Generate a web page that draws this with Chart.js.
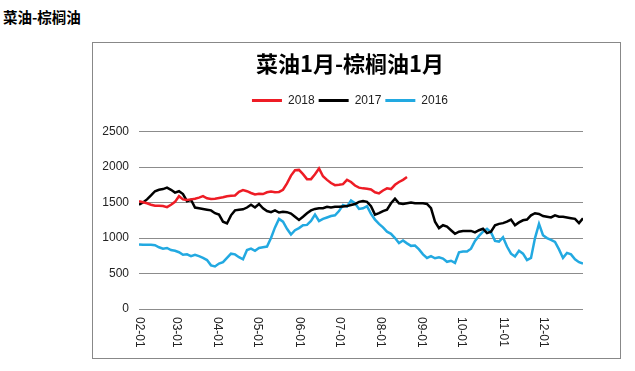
<!DOCTYPE html>
<html>
<head>
<meta charset="utf-8">
<script src="https://cdn.jsdelivr.net/npm/chart.js@4.4.0/dist/chart.umd.min.js"></script>
<style>
  body { margin: 0; background: #fff; }
  #page-title { position: absolute; left: 3px; top: 6px; font: bold 14.5px "Noto Sans CJK SC"; color: #000; }
  #frame { position: absolute; left: 92px; top: 42px; width: 527px; height: 315px; border: 1px solid #888; }
  #wrap { position: absolute; left: 0; top: 0; width: 635px; height: 371px; }
</style>
</head>
<body>
<div id="page-title">菜油-棕榈油</div>
<div id="frame"></div>
<div id="wrap"><canvas id="myChart" width="635" height="371"></canvas></div>
<script>
// sample days, counted from 02-01 (every 3rd day up to 12-31)
const days = Array.from({ length: 112 }, (_, i) => i * 3);

// month ticks on the x axis
const monthStarts = [0, 28, 59, 89, 120, 150, 181, 212, 242, 273, 303];
const monthLabels = ['02-01', '03-01', '04-01', '05-01', '06-01', '07-01', '08-01', '09-01', '10-01', '11-01', '12-01'];

const spread2018 = [
  1520, 1505, 1490, 1470, 1455, 1455, 1450, 1435, 1470, 1510,
  1590, 1545, 1535, 1545, 1555, 1570, 1590, 1560, 1550, 1555,
  1565, 1575, 1590, 1595, 1600, 1650, 1675, 1660, 1635, 1615,
  1625, 1620, 1645, 1655, 1645, 1650, 1680, 1770, 1880, 1955,
  1960, 1900, 1830, 1830, 1900, 1980, 1870, 1820, 1775, 1745,
  1750, 1760, 1820, 1790, 1740, 1710, 1700, 1695, 1685, 1645,
  1630, 1670, 1700, 1690, 1750, 1790, 1820, 1860
];

const spread2017 = [
  1470, 1500, 1545, 1600, 1660, 1680, 1690, 1710, 1680, 1640,
  1660, 1620, 1520, 1540, 1430, 1420, 1410, 1400, 1390, 1350,
  1330, 1230, 1205, 1320, 1390, 1400, 1405, 1430, 1470, 1430,
  1480, 1420, 1380, 1365, 1390, 1360, 1370, 1365, 1345, 1300,
  1255, 1300, 1350, 1390, 1410, 1420, 1420, 1440, 1430, 1440,
  1440, 1445, 1450, 1465, 1480, 1510, 1520, 1510, 1450, 1330,
  1350, 1380, 1400, 1490, 1555, 1490, 1480, 1490, 1500, 1490,
  1490, 1490, 1480, 1420, 1230, 1140, 1180, 1160, 1110, 1060,
  1090, 1100, 1100, 1100, 1080, 1110, 1130, 1070, 1090, 1180,
  1200, 1210, 1230, 1260, 1180, 1220, 1250, 1260, 1320, 1350,
  1340, 1310, 1300, 1290, 1320, 1300, 1300, 1290, 1280, 1270,
  1210, 1280
];

const spread2016 = [
  910, 905, 905, 905, 900, 870, 850, 860, 830, 820,
  800, 765, 770, 745, 765, 745, 720, 690, 615, 600,
  640, 660, 720, 780, 770, 730, 700, 830, 850, 820,
  860, 870, 880, 1000, 1150, 1270, 1230, 1130, 1050, 1110,
  1140, 1180, 1185, 1240, 1330, 1240, 1270, 1290, 1310, 1320,
  1380, 1465, 1445, 1530, 1490, 1410, 1420, 1450, 1340, 1260,
  1200, 1150, 1090, 1060, 1000, 930, 965, 925, 890, 895,
  840, 770, 720, 745, 715, 730, 710, 665, 680, 650,
  800, 810, 810, 850, 960, 1030, 1090, 1130, 1080, 960,
  950, 1010, 880, 780, 740, 820, 780, 690, 720, 1000,
  1200, 1040, 1000, 975, 945, 840, 720, 790, 770, 700,
  660, 640
];

const toPoints = (values) => values.map((v, i) => ({ x: days[i], y: v }));

const labelFont = { family: '"Liberation Sans", Arial, sans-serif', size: 12 };

// x labels in the original read top-to-bottom, so draw them ourselves
const monthLabelsPlugin = {
  id: 'monthLabels',
  afterDraw(chart) {
    const { ctx, chartArea, scales } = chart;
    ctx.save();
    ctx.font = '12px "Liberation Sans", Arial, sans-serif';
    ctx.fillStyle = '#222';
    ctx.textAlign = 'left';
    ctx.textBaseline = 'middle';
    monthStarts.forEach((d, i) => {
      ctx.save();
      ctx.translate(scales.x.getPixelForValue(d), chartArea.bottom + 8);
      ctx.rotate(Math.PI / 2);
      ctx.fillText(monthLabels[i], 0, 0);
      ctx.restore();
    });
    ctx.restore();
  }
};

new Chart(document.getElementById('myChart').getContext('2d'), {
  type: 'line',
  data: {
    datasets: [
      { label: '2018', data: toPoints(spread2018), borderColor: '#ee1c25', backgroundColor: '#ee1c25' },
      { label: '2017', data: toPoints(spread2017), borderColor: '#000000', backgroundColor: '#000000' },
      { label: '2016', data: toPoints(spread2016), borderColor: '#22a9e1', backgroundColor: '#22a9e1' }
    ]
  },
  options: {
    responsive: false,
    animation: false,
    elements: {
      line: { borderWidth: 2.5, tension: 0 },
      point: { radius: 0 }
    },
    layout: { padding: { left: 99, right: 34, top: 50, bottom: 12 } },
    plugins: {
      tooltip: { enabled: false },
      title: {
        display: true,
        text: '菜油1月-棕榈油1月',
        color: '#000',
        font: { family: '"Noto Sans CJK SC"', size: 22, weight: 'bold' },
        padding: { top: 0, bottom: 14 }
      },
      subtitle: {
        display: true,
        text: '',
        weight: 500,
        font: { size: 1 },
        padding: { top: 0, bottom: 14 }
      },
      legend: {
        position: 'top',
        labels: {
          boxWidth: 30,
          boxHeight: 3,
          padding: 4,
          color: '#222',
          font: labelFont,
          generateLabels: (chart) =>
            Chart.defaults.plugins.legend.labels.generateLabels(chart).map(item => ({ ...item, lineWidth: 0 }))
        }
      }
    },
    scales: {
      x: {
        type: 'linear',
        min: 0,
        max: 333,
        grid: { display: false },
        border: { display: false },
        ticks: { display: false },
        afterFit: (scale) => { scale.height = 50; }
      },
      y: {
        min: 0,
        max: 2500,
        grid: { color: '#8c8c8c', drawTicks: false },
        border: { display: false },
        ticks: { stepSize: 500, padding: 10, color: '#222', font: labelFont, callback: (v) => String(v) },
        afterFit: (scale) => { scale.width = 40; }
      },
      // empty right-hand axis: keeps the plot edge where the original has it
      yRight: {
        position: 'right',
        grid: { display: false },
        border: { display: false },
        ticks: { display: false },
        afterFit: (scale) => { scale.width = 18; }
      }
    }
  },
  plugins: [monthLabelsPlugin]
});
</script>
</body>
</html>
